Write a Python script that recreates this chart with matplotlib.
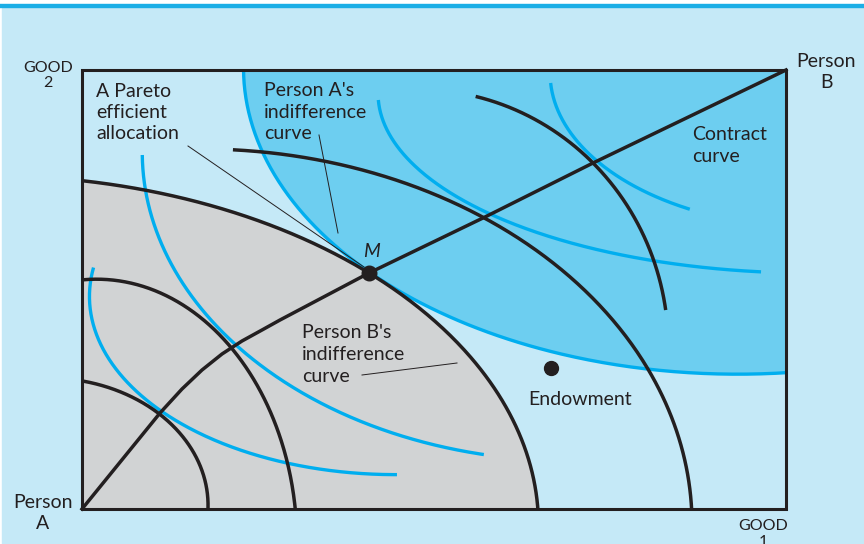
import numpy as np
import matplotlib
matplotlib.use("Agg")
import matplotlib.pyplot as plt
from matplotlib.patches import Rectangle, Polygon


# box size (good 1 along x, good 2 along y), read in picture units
BOX_W = 704
BOX_H = 439

# curves, in box units from Person A's corner
gray_edge = [(1, 327), (98, 314), (198, 279), (287, 236), (348, 189), (415, 122), (455, 0)]
black_arcs = [
    [(1, 128), (38, 117), (78, 95), (108, 62), (126, 0)],
    [(1, 229), (98, 207), (145, 164), (185, 106), (205, 49), (213, 0)],
    [(151, 360), (243, 346), (298, 333), (365, 311), (403, 292), (465, 249),
     (525, 199), (563, 142), (575, 122), (610, 0)],
    [(394, 414), (455, 386), (511, 346), (544, 307), (571, 249), (584, 199)],
]
blue_edge = [(160, 439), (175, 382), (198, 322), (243, 272), (287, 236), (355, 199),
             (378, 189), (465, 156), (563, 142), (704, 136)]
blue_arcs = [
    [(296, 409), (331, 349), (365, 319), (403, 292), (498, 266), (568, 249),
     (618, 242), (679, 237)],
    [(468, 426), (488, 382), (513, 346), (561, 319), (608, 300)],
    [(60, 354), (68, 302), (98, 229), (148, 168), (198, 132), (298, 79), (402, 55)],
    [(6, 242), (25, 169), (48, 119), (78, 96), (131, 72), (205, 52), (298, 34), (315, 30)],
]
contract = [(0, 0), (78, 96), (100, 120), (120, 139), (140, 155), (160, 168),
            (180, 179), (198, 189), (287, 236), (403, 292), (511, 346), (704, 439)]
pareto_point = (287, 236)
endowment = (469, 141)

BLACK = '#231f20'
CYAN = '#00aeef'
LIGHT = '#c5e9f7'
MID = '#6dcef0'
GRAY = '#d1d3d4'


def arc(points, owner, extend=0.0, n=300):
    # fit an axis-aligned ellipse around the owner's corner and return the arc
    pts = np.asarray(points, float)
    sgn = 1.0 if owner == 'A' else -1.0
    ox, oy = (0.0, 0.0) if owner == 'A' else (BOX_W, BOX_H)
    u = sgn * (pts[:, 0] - ox)
    v = sgn * (pts[:, 1] - oy)
    m = np.column_stack([u ** 2, v ** 2, u, v])
    a, b, c, d = np.linalg.lstsq(m, np.ones(len(u)), rcond=None)[0]
    cu, cv = -c / (2 * a), -d / (2 * b)
    g = 1 + a * cu ** 2 + b * cv ** 2
    ru, rv = np.sqrt(g / a), np.sqrt(g / b)
    t0 = np.arctan2((v[0] - cv) / rv, (u[0] - cu) / ru)
    t1 = np.arctan2((v[-1] - cv) / rv, (u[-1] - cu) / ru)
    if t1 - t0 > np.pi:
        t1 -= 2 * np.pi
    elif t1 - t0 < -np.pi:
        t1 += 2 * np.pi
    step = np.sign(t1 - t0) * extend
    t = np.linspace(t0 - step, t1 + step, n)
    x = ox + sgn * (cu + ru * np.cos(t))
    y = oy + sgn * (cv + rv * np.sin(t))
    return x, y


fig = plt.figure(figsize=(8.64, 5.44), dpi=100)
ax = fig.add_axes([0, 0, 1, 1])
ax.set_xlim(-82, 782)
ax.set_ylim(-35, 509)
ax.axis('off')

# page background and top rule
ax.add_patch(Rectangle((-80, -40), 870, 541.5, color=LIGHT, zorder=0))
ax.add_patch(Rectangle((-90, 502), 880, 3, color='#1baee6', zorder=0))

box = Rectangle((0, 0), BOX_W, BOX_H, transform=ax.transData)

gx, gy = arc(gray_edge, 'A', extend=0.05)
gray = Polygon(np.column_stack([np.r_[gx, 0], np.r_[gy, 0]]), color=GRAY, zorder=1)
ax.add_patch(gray)
gray.set_clip_path(box)

bx, by = arc(blue_edge, 'B', extend=0.05)
blue = Polygon(np.column_stack([np.r_[bx, BOX_W], np.r_[by, BOX_H]]), color=MID, zorder=1)
ax.add_patch(blue)
blue.set_clip_path(box)
line, = ax.plot(bx, by, color=CYAN, lw=2.4, zorder=2)
line.set_clip_path(box)

for pts in blue_arcs:
    x, y = arc(pts, 'B')
    ax.plot(x, y, color=CYAN, lw=2.4, solid_capstyle='butt', zorder=2)

line, = ax.plot(gx, gy, color=BLACK, lw=2.5, zorder=3)
line.set_clip_path(box)
for pts in black_arcs:
    x, y = arc(pts, 'A')
    ax.plot(x, y, color=BLACK, lw=2.5, solid_capstyle='butt', zorder=3)

cx, cy = zip(*contract)
ax.plot(cx, cy, color=BLACK, lw=2.5, solid_joinstyle='round', zorder=3)

ax.add_patch(Rectangle((0, 0), BOX_W, BOX_H, fill=False, ec=BLACK, lw=2.2, zorder=4))

ax.plot(*pareto_point, 'o', color=BLACK, ms=10.5, zorder=5)
ax.plot(*endowment, 'o', color=BLACK, ms=10, zorder=5)

# pointer lines
ax.plot([106, 282], [363, 242], color=BLACK, lw=0.7, zorder=5)
ax.plot([237, 256], [374, 276], color=BLACK, lw=0.7, zorder=5)
ax.plot([280, 375], [134, 146], color=BLACK, lw=0.7, zorder=5)

font = dict(family='Lato', color=BLACK, fontsize=14, zorder=6)
small = dict(family='Lato', color=BLACK, fontsize=11.5, ha='center', zorder=6)

ax.text(-34, 437, 'GOOD', **small)
ax.text(-34, 422, '2', **small)
ax.text(681, -21, 'GOOD', **small)
ax.text(681, -36.5, '1', **small)
ax.text(744, 442, 'Person', ha='center', **font)
ax.text(744, 421, 'B', ha='center', **font)
ax.text(-39, 1, 'Person', ha='center', **font)
ax.text(-39, -20, 'A', ha='center', **font)

for i, s in enumerate(['A Pareto', 'efficient', 'allocation']):
    ax.text(14, 412 - 21 * i, s, **font)
for i, s in enumerate(["Person A's", 'indifference', 'curve']):
    ax.text(182, 413 - 21.5 * i, s, **font)
for i, s in enumerate(['Contract', 'curve']):
    ax.text(610, 369 - 22 * i, s, **font)
for i, s in enumerate(["Person B's", 'indifference', 'curve']):
    ax.text(220, 171 - 22 * i, s, **font)
ax.text(446, 104, 'Endowment', **font)
ax.text(281, 252, 'M', style='italic', **font)

fig.savefig('out.png', dpi=100)
